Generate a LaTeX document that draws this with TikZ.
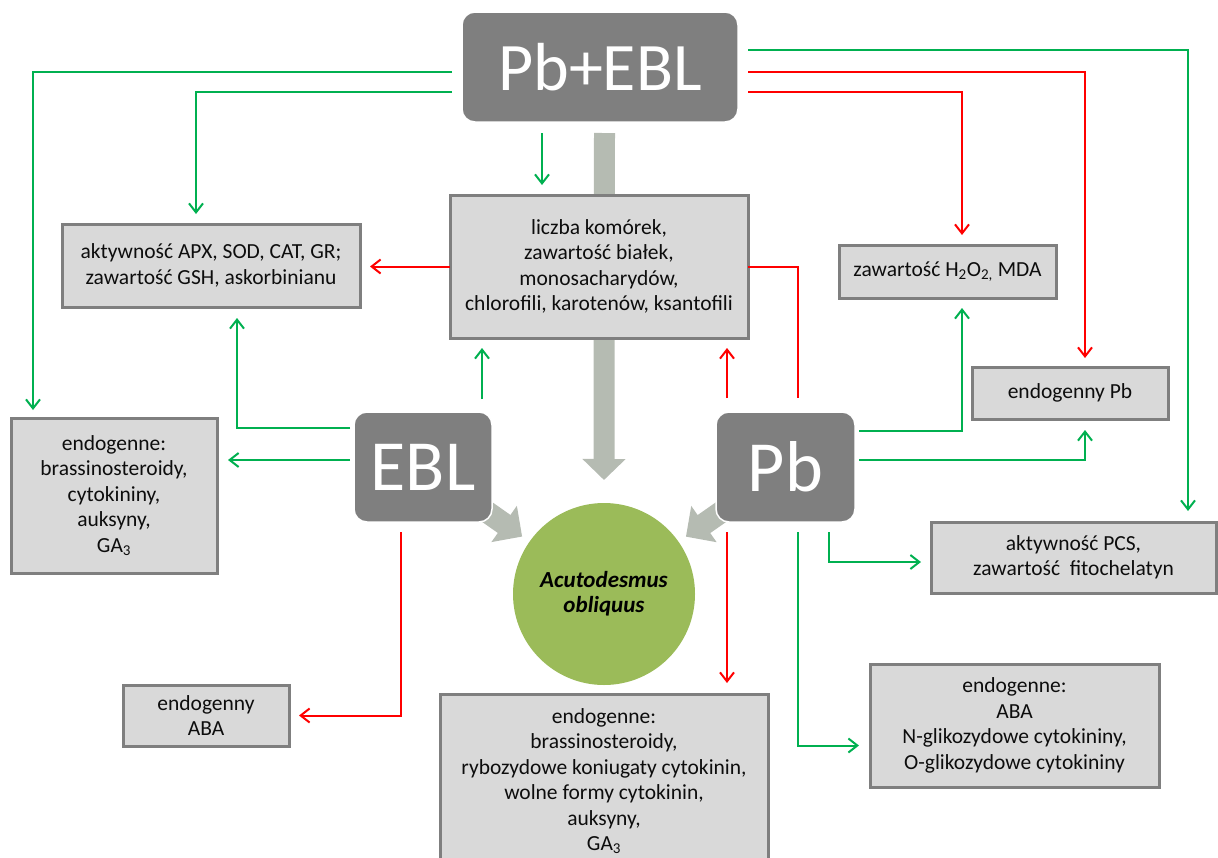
\documentclass[tikz,border=0pt]{standalone}
\usepackage{fontspec}
\setmainfont{Carlito}
\usetikzlibrary{arrows.meta,calc}
\pgfdeclarelayer{bg}
\pgfsetlayers{bg,main}
\definecolor{gr}{HTML}{00B050}
\definecolor{rd}{HTML}{FF0000}
\definecolor{boxfill}{HTML}{D9D9D9}
\definecolor{boxline}{HTML}{7F7F7F}
\definecolor{darkbox}{HTML}{7F7F7F}
\definecolor{arrg}{HTML}{B5BBB2}
\definecolor{olivec}{HTML}{9BBB59}
\definecolor{txt}{HTML}{0D0D0D}
\begin{document}
\begin{tikzpicture}[x=1pt,y=-1pt,
 lbox/.style={draw=boxline, fill=boxfill, line width=3pt, align=center, inner sep=0pt, outer sep=0pt, text=txt, font=\fontsize{21.5pt}{25.5pt}\selectfont},
 dbox/.style={draw=white, fill=darkbox, line width=1.5pt, rounded corners=13pt, text=white, inner sep=0pt, outer sep=0pt},
 con/.style={line width=2pt},
 garr/.style={con, draw=gr, -{Straight Barb[length=9pt,width=14pt]}},
 rarr/.style={con, draw=rd, -{Straight Barb[length=9pt,width=14pt]}},
 rline/.style={con, draw=rd},
 bigarr/.style={draw=arrg}
]
\useasboundingbox (0,0) rectangle (1218,857);

% dark boxes
\node[dbox, minimum width=276pt, minimum height=110pt, font=\fontsize{68pt}{80pt}\selectfont] (PbEBL) at (600,67) {Pb+EBL};
\node[dbox, minimum width=138pt, minimum height=110pt, font=\fontsize{72pt}{84pt}\selectfont] (EBL) at (423,467) {EBL};
\node[dbox, minimum width=139pt, minimum height=110pt, font=\fontsize{72pt}{84pt}\selectfont] (Pb) at (785.5,467) {Pb};

% circle
\node[circle, fill=olivec, minimum size=182pt, inner sep=0pt, outer sep=0pt, align=center, text=black,
 font=\fontsize{23pt}{25pt}\selectfont\bfseries\itshape] (circ) at (604,594) {Acutodesmus\\obliquus};

% light boxes
\node[lbox, minimum width=298pt, minimum height=143pt] (liczba) at (599,266.5)
 {liczba komórek,\\zawartość białek,\\monosacharydów,\\chlorofili, karotenów, ksantofili};
\node[lbox, minimum width=298pt, minimum height=83pt] (akt) at (211,265.5)
 {aktywność APX, SOD, CAT, GR;\\zawartość GSH, askorbinianu};
\node[lbox, minimum width=217pt, minimum height=53pt] (h2o2) at (947.5,271.5)
 {zawartość H\textsubscript{2}O\textsubscript{2,} MDA};
\node[lbox, minimum width=196pt, minimum height=52pt] (endPb) at (1070,393) {endogenny Pb};
\node[lbox, minimum width=206pt, minimum height=155pt] (endL) at (114,495.5)
 {endogenne:\\brassinosteroidy,\\cytokininy,\\auksyny,\\GA\textsubscript{3}};
\node[lbox, minimum width=285pt, minimum height=71pt] (PCS) at (1073.5,557.5)
 {aktywność PCS,\\zawartość\ \ fitochelatyn};
\node[lbox, minimum width=289pt, minimum height=123pt] (endR) at (1014.5,725.5)
 {endogenne:\\ABA\\N-glikozydowe cytokininy,\\O-glikozydowe cytokininy};
\node[lbox, minimum width=166pt, minimum height=61pt] (ABA) at (206,715.5) {endogenny\\ABA};
\node[lbox, minimum width=328pt, minimum height=174pt] (endB) at (604,781)
 {endogenne:\\brassinosteroidy,\\rybozydowe koniugaty cytokinin,\\wolne formy cytokinin,\\auksyny,\\GA\textsubscript{3}};

% big grey arrows (behind)
\begin{pgfonlayer}{bg}
\draw[bigarr, line width=21pt, -{Triangle[length=21pt,width=42pt]}]
 ($(PbEBL.south)+(4.5,11)$) -- ($(circ.north)+(0,-23)$);
\draw[bigarr, line width=22pt, -{Triangle[length=22pt,width=43pt]}, shorten >=9pt] (EBL.center) -- (circ);
\draw[bigarr, line width=22pt, -{Triangle[length=22pt,width=43pt]}, shorten >=9pt] (Pb.center) -- (circ);
\end{pgfonlayer}

% helper coordinates (free ends)
\coordinate (e1) at ($(EBL.west)+(-4,-7)$);
\coordinate (e2) at ($(EBL.north)+(59,-13)$);
\coordinate (p1) at ($(Pb.north)+(-58.5,-14)$);
\coordinate (p2) at ($(Pb.south)+(-58.5,10)$);
\coordinate (t1) at ($(PbEBL.south)+(-58,11)$);

% Pb+EBL connectors
\draw[garr] ($(PbEBL.west)+(-10,5)$) -| ($(endL.north west)+(22,-8)$);
\draw[garr] ($(PbEBL.west)+(-10,25)$) -| ($(akt.north)+(-15,-10)$);
\draw[garr, shorten >=10pt] (t1) -- (t1 |- liczba.north);
\draw[garr] ($(PbEBL.east)+(10,-17)$) -| ($(PCS.north)+(114.5,-11)$);
\draw[rarr] ($(PbEBL.east)+(10,5)$) -| ($(endPb.north)+(15,-9)$);
\draw[rarr] ($(PbEBL.east)+(10,25)$) -| ($(h2o2.north)+(14.5,-10)$);

% liczba connectors
\draw[rarr, shorten >=10pt] (liczba.west) -- (liczba.west -| akt.east);
\draw[rline] (liczba.east) -| ($(Pb.north)+(12.5,-14)$);

% EBL connectors
\draw[garr] ($(EBL.west)+(-4,-39)$) -| ($(akt.south)+(26,11)$);
\draw[garr, shorten >=11pt] (e1) -- (e1 -| endL.east);
\draw[garr, shorten >=10pt] (e2) -- (e2 |- liczba.south);
\draw[rarr, shorten >=10pt] ($(EBL.south)+(-22,10)$) |- (ABA.east);

% Pb connectors
\draw[rarr, shorten >=10pt] (p1) -- (p1 |- liczba.south);
\draw[rarr, shorten >=11pt] (p2) -- (p2 |- endB.north);
\draw[garr] ($(Pb.east)+(4,-36)$) -| ($(h2o2.south)+(14.5,10)$);
\draw[garr] ($(Pb.east)+(4,-7)$) -| ($(endPb.south)+(15,11)$);
\draw[garr] ($(Pb.south)+(43,10)$) |- ($(PCS.west)+(-10,4.5)$);
\draw[garr] ($(Pb.south)+(12.5,10)$) |- ($(endR.west)+(-11,20)$);
\end{tikzpicture}
\end{document}
